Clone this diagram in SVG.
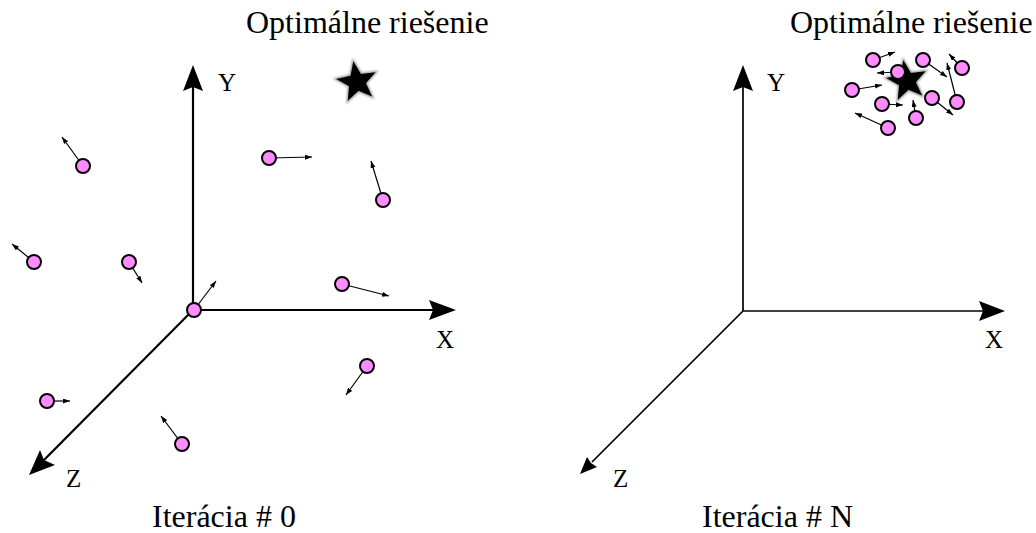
<svg xmlns="http://www.w3.org/2000/svg" width="1036" height="533" viewBox="0 0 1036 533">
<defs>
<style>
.title{font-size:32px}
.ax{font-size:25px}
.axisL{stroke:#000;stroke-width:2.2;fill:none}
.axisR{stroke:#000;stroke-width:1.7;fill:none}
.head{fill:#000;stroke:none}
.p{fill:#ff8cff;stroke:#000;stroke-width:2}
.v{stroke:#000;stroke-width:1.2;fill:none;marker-end:url(#ah)}
</style>
<marker id="ah" markerUnits="userSpaceOnUse" markerWidth="8" markerHeight="6" refX="7" refY="2.5" orient="auto">
<path d="M0,0 L7,2.5 L0,5 Z" fill="#000"/>
</marker>
<filter id="glow" x="-30%" y="-30%" width="160%" height="160%">
<feGaussianBlur stdDeviation="1"/>
</filter>
<path id="star" d="M-3.65,-20.68 L3.95,-8.09 L18.54,-9.86 L8.91,1.25 L15.11,14.59 L1.56,8.86 L-9.21,18.87 L-7.95,4.23 L-20.8,-2.92 L-6.47,-6.25 Z"/>
</defs>
<rect width="1036" height="533" fill="#fff"/>

<g id="axes-left" font-family="'Liberation Serif', 'DejaVu Serif', serif">
<line class="axisL" x1="193" y1="310" x2="193" y2="86"/>
<polygon class="head" points="193,65 203,91 193,87 183,91"/>
<line class="axisL" x1="193" y1="310" x2="434" y2="310"/>
<polygon class="head" points="456,310 429,320 433,310 429,300"/>
<line class="axisL" x1="193" y1="310" x2="44" y2="460"/>
<polygon class="head" points="29,475 40,450 44,460 55,465"/>
<text class="ax" x="218" y="91">Y</text>
<text class="ax" x="436" y="348">X</text>
<text class="ax" x="66" y="487">Z</text>
</g>

<g id="axes-right" font-family="'Liberation Serif', 'DejaVu Serif', serif">
<line class="axisR" x1="743" y1="311" x2="743" y2="86"/>
<polygon class="head" points="743,65 753,91 743,87 733,91"/>
<line class="axisR" x1="743" y1="311" x2="984" y2="311"/>
<polygon class="head" points="1005,311 979,321 983,311 979,301"/>
<line class="axisR" x1="743" y1="311" x2="592" y2="462"/>
<polygon class="head" points="580,474 587,457 591,463 597,467"/>
<text class="ax" x="767" y="91">Y</text>
<text class="ax" x="985" y="348">X</text>
<text class="ax" x="613" y="487">Z</text>
</g>

<g id="star-left">
<use href="#star" transform="translate(357,82)" fill="#999" stroke="#999" stroke-width="2.5" filter="url(#glow)"/>
<use href="#star" transform="translate(357,82)" fill="#000"/>
</g>
<g id="star-right">
<use href="#star" transform="translate(907,81)" fill="#999" stroke="#999" stroke-width="2.5" filter="url(#glow)"/>
<use href="#star" transform="translate(907,81)" fill="#000"/>
</g>

<g id="connectors">
<line class="v" x1="83" y1="166" x2="62" y2="137"/>
<line class="v" x1="269" y1="158" x2="312" y2="157"/>
<line class="v" x1="383" y1="200" x2="371" y2="161"/>
<line class="v" x1="34" y1="262" x2="12" y2="244"/>
<line class="v" x1="129" y1="262" x2="142" y2="283"/>
<line class="v" x1="194" y1="310" x2="216" y2="281"/>
<line class="v" x1="342" y1="284" x2="389" y2="296"/>
<line class="v" x1="367" y1="366" x2="346" y2="395"/>
<line class="v" x1="47" y1="401" x2="70" y2="401"/>
<line class="v" x1="182" y1="444" x2="161" y2="416"/>

<line class="v" x1="873" y1="60" x2="895" y2="52"/>
<line class="v" x1="923" y1="60" x2="947" y2="77"/>
<line class="v" x1="962" y1="68" x2="949" y2="54"/>
<line class="v" x1="898" y1="72" x2="877" y2="73"/>
<line class="v" x1="852" y1="90" x2="882" y2="85"/>
<line class="v" x1="932" y1="98" x2="953" y2="115"/>
<line class="v" x1="957" y1="102" x2="947" y2="63"/>
<line class="v" x1="882" y1="104" x2="903" y2="105"/>
<line class="v" x1="916" y1="118" x2="913" y2="100"/>
<line class="v" x1="888" y1="128" x2="855" y2="113"/>
</g>

<g id="particles-left">
<g id="pl1"><circle class="p" cx="83" cy="166" r="7"/></g>
<g id="pl2"><circle class="p" cx="269" cy="158" r="7"/></g>
<g id="pl3"><circle class="p" cx="383" cy="200" r="7"/></g>
<g id="pl4"><circle class="p" cx="34" cy="262" r="7"/></g>
<g id="pl5"><circle class="p" cx="129" cy="262" r="7"/></g>
<g id="pl6"><circle class="p" cx="194" cy="310" r="7"/></g>
<g id="pl7"><circle class="p" cx="342" cy="284" r="7"/></g>
<g id="pl8"><circle class="p" cx="367" cy="366" r="7"/></g>
<g id="pl9"><circle class="p" cx="47" cy="401" r="7"/></g>
<g id="pl10"><circle class="p" cx="182" cy="444" r="7"/></g>
</g>

<g id="particles-right">
<g id="pr1"><circle class="p" cx="873" cy="60" r="7"/></g>
<g id="pr2"><circle class="p" cx="923" cy="60" r="7"/></g>
<g id="pr3"><circle class="p" cx="962" cy="68" r="7"/></g>
<g id="pr4"><circle class="p" cx="898" cy="72" r="7"/></g>
<g id="pr5"><circle class="p" cx="852" cy="90" r="7"/></g>
<g id="pr6"><circle class="p" cx="932" cy="98" r="7"/></g>
<g id="pr7"><circle class="p" cx="957" cy="102" r="7"/></g>
<g id="pr8"><circle class="p" cx="882" cy="104" r="7"/></g>
<g id="pr9"><circle class="p" cx="916" cy="118" r="7"/></g>
<g id="pr10"><circle class="p" cx="888" cy="128" r="7"/></g>
</g>

<g id="titles" font-family="'Liberation Serif', 'DejaVu Serif', serif">
<text class="title" x="246" y="33">Optimálne riešenie</text>
<text class="title" x="790" y="33">Optimálne riešenie</text>
<text class="title" x="152" y="527">Iterácia # 0</text>
<text class="title" x="702" y="527">Iterácia # N</text>
</g>
</svg>
